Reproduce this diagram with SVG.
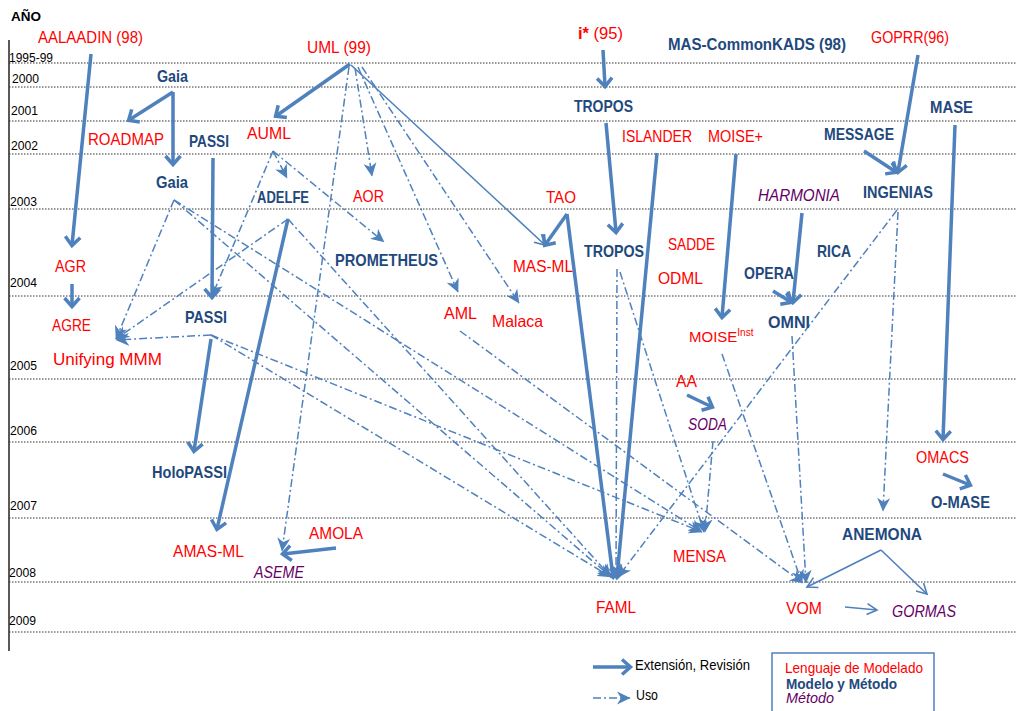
<svg xmlns="http://www.w3.org/2000/svg" width="1016" height="711" viewBox="0 0 1016 711">
<style>
text{font-family:"Liberation Sans",Arial,sans-serif}
.r{font-size:16.5px;fill:#FF0000}
.b{font-size:16.5px;font-weight:bold;fill:#1F497D}
.p{font-size:16.5px;font-style:italic;fill:#660066}
.y{font-size:12.5px;fill:#000}
.grid{stroke:#333;stroke-width:1;stroke-dasharray:1.5 1.5}
.ext{stroke:#4F81BD;stroke-width:3.5;fill:none;marker-end:url(#mh)}
.thin{stroke:#4F81BD;stroke-width:1.6;fill:none;marker-end:url(#mt)}
.uso{stroke:#4F81BD;stroke-width:1.5;fill:none;stroke-dasharray:8 3 2 3;marker-end:url(#mu)}
</style>
<defs>
<marker id="mh" markerUnits="userSpaceOnUse" viewBox="0 0 16 18" markerWidth="16" markerHeight="18" refX="11" refY="9" orient="auto">
<path d="M3,1.5 L11.5,9 L3,16.5" fill="none" stroke="#4F81BD" stroke-width="3.5"/>
</marker>
<marker id="mt" markerUnits="userSpaceOnUse" viewBox="0 0 14 14" markerWidth="14" markerHeight="14" refX="12" refY="7" orient="auto">
<path d="M2,1.5 L12,7 L2,12.5" fill="none" stroke="#4F81BD" stroke-width="1.6"/>
</marker>
<marker id="mu" markerUnits="userSpaceOnUse" viewBox="0 0 14 14" markerWidth="14" markerHeight="14" refX="13" refY="7" orient="auto">
<path d="M0,0.5 L13.5,7 L0,13.5 L4,7 z" fill="#4F81BD"/>
</marker>
</defs>
<rect width="1016" height="711" fill="#fff"/>
<g id="grid">
<line x1="9" y1="40" x2="9" y2="651" stroke="#000" stroke-width="1.3"/>
<line class="grid" x1="9" y1="63" x2="1016" y2="63"/>
<line class="grid" x1="9" y1="87" x2="1016" y2="87"/>
<line class="grid" x1="9" y1="121" x2="1016" y2="121"/>
<line class="grid" x1="9" y1="154" x2="1016" y2="154"/>
<line class="grid" x1="9" y1="209" x2="1016" y2="209"/>
<line class="grid" x1="9" y1="296" x2="1016" y2="296"/>
<line class="grid" x1="9" y1="379" x2="1016" y2="379"/>
<line class="grid" x1="9" y1="442" x2="1016" y2="442"/>
<line class="grid" x1="9" y1="518" x2="1016" y2="518"/>
<line class="grid" x1="9" y1="582" x2="1016" y2="582"/>
<line class="grid" x1="9" y1="632" x2="1016" y2="632"/>
<text x="11" y="21" font-size="13.5" font-weight="bold" textLength="30" lengthAdjust="spacingAndGlyphs">AÑO</text>
<text class="y" x="9" y="62" textLength="44" lengthAdjust="spacingAndGlyphs">1995-99</text>
<text class="y" x="12" y="83" textLength="27" lengthAdjust="spacingAndGlyphs">2000</text>
<text class="y" x="11" y="115" textLength="27" lengthAdjust="spacingAndGlyphs">2001</text>
<text class="y" x="11" y="150" textLength="27" lengthAdjust="spacingAndGlyphs">2002</text>
<text class="y" x="10" y="206" textLength="27" lengthAdjust="spacingAndGlyphs">2003</text>
<text class="y" x="10" y="287" textLength="27" lengthAdjust="spacingAndGlyphs">2004</text>
<text class="y" x="10" y="370" textLength="27" lengthAdjust="spacingAndGlyphs">2005</text>
<text class="y" x="10" y="435" textLength="27" lengthAdjust="spacingAndGlyphs">2006</text>
<text class="y" x="10" y="510" textLength="27" lengthAdjust="spacingAndGlyphs">2007</text>
<text class="y" x="9" y="577" textLength="27" lengthAdjust="spacingAndGlyphs">2008</text>
<text class="y" x="9" y="625" textLength="27" lengthAdjust="spacingAndGlyphs">2009</text>
</g>
<g id="connectors">
<line class="ext" x1="91" y1="54" x2="72" y2="245"/>
<line class="ext" x1="72" y1="284" x2="72" y2="306"/>
<line class="ext" x1="173" y1="92" x2="129" y2="120"/>
<line class="ext" x1="173" y1="92" x2="173" y2="164"/>
<line class="ext" x1="350" y1="64" x2="276" y2="116"/>
<line class="ext" x1="213" y1="158" x2="212" y2="297"/>
<line class="ext" x1="211" y1="339" x2="194" y2="451"/>
<line class="ext" x1="288" y1="219" x2="217" y2="529"/>
<line class="ext" x1="336" y1="548" x2="283" y2="554"/>
<line class="ext" x1="603" y1="50" x2="605" y2="86"/>
<line class="ext" x1="606" y1="123" x2="616" y2="232"/>
<line class="ext" x1="567" y1="214" x2="545" y2="245"/>
<line class="ext" x1="567" y1="214" x2="613" y2="577"/>
<line class="ext" x1="657" y1="153" x2="617" y2="577"/>
<line class="ext" x1="736" y1="154" x2="722" y2="317"/>
<line class="ext" x1="802" y1="213" x2="793" y2="302"/>
<line class="ext" x1="773" y1="291" x2="791" y2="302"/>
<line class="ext" x1="864" y1="151" x2="896" y2="172"/>
<line class="ext" x1="918" y1="55" x2="898" y2="172"/>
<line class="ext" x1="955" y1="125" x2="943" y2="439"/>
<line class="ext" x1="943" y1="474" x2="970" y2="485"/>
<line class="ext" x1="687" y1="395" x2="712" y2="407"/>
<line class="thin" x1="351" y1="65" x2="545" y2="245"/>
<line class="thin" x1="881" y1="550" x2="807" y2="587"/>
<line class="thin" x1="881" y1="550" x2="927" y2="594"/>
<line class="thin" x1="845" y1="607" x2="877" y2="610"/>
<line class="uso" x1="355" y1="68" x2="372" y2="176"/>
<line class="uso" x1="273" y1="151" x2="384" y2="242"/>
<line class="uso" x1="358" y1="67" x2="458" y2="292"/>
<line class="uso" x1="362" y1="67" x2="519" y2="303"/>
<line class="uso" x1="349" y1="67" x2="282" y2="551"/>
<line class="uso" x1="273" y1="151" x2="287" y2="178"/>
<line class="uso" x1="273" y1="151" x2="212" y2="296"/>
<line class="uso" x1="174" y1="200" x2="116" y2="339"/>
<line class="uso" x1="288" y1="219" x2="116" y2="339"/>
<line class="uso" x1="211" y1="335" x2="116" y2="340"/>
<line class="uso" x1="174" y1="200" x2="611" y2="577"/>
<line class="uso" x1="174" y1="200" x2="702" y2="532"/>
<line class="uso" x1="288" y1="219" x2="611" y2="577"/>
<line class="uso" x1="211" y1="335" x2="611" y2="577"/>
<line class="uso" x1="211" y1="335" x2="702" y2="532"/>
<line class="uso" x1="460" y1="331" x2="803" y2="583"/>
<line class="uso" x1="617" y1="269" x2="616" y2="577"/>
<line class="uso" x1="620" y1="272" x2="704" y2="532"/>
<line class="uso" x1="713" y1="441" x2="705" y2="532"/>
<line class="uso" x1="722" y1="354" x2="802" y2="583"/>
<line class="uso" x1="792" y1="336" x2="806" y2="583"/>
<line class="uso" x1="897" y1="210" x2="618" y2="577"/>
<line class="uso" x1="898" y1="212" x2="883" y2="511"/>
</g>
<g id="n-aalaadin"><text class="r" x="38" y="43" textLength="105" lengthAdjust="spacingAndGlyphs">AALAADIN (98)</text></g>
<g id="n-uml"><text class="r" x="307" y="53" textLength="64" lengthAdjust="spacingAndGlyphs">UML (99)</text></g>
<g id="n-istar"><text class="r" x="578" y="39"><tspan font-weight="bold">i*</tspan> (95)</text></g>
<g id="n-masck"><text class="b" x="668" y="50" textLength="178" lengthAdjust="spacingAndGlyphs">MAS-CommonKADS (98)</text></g>
<g id="n-goprr"><text class="r" x="871" y="43" textLength="78" lengthAdjust="spacingAndGlyphs">GOPRR(96)</text></g>
<g id="n-gaia1"><text class="b" x="157" y="82" textLength="31" lengthAdjust="spacingAndGlyphs">Gaia</text></g>
<g id="n-tropos1"><text class="b" x="574" y="112" textLength="59" lengthAdjust="spacingAndGlyphs">TROPOS</text></g>
<g id="n-mase"><text class="b" x="930" y="113" textLength="43" lengthAdjust="spacingAndGlyphs">MASE</text></g>
<g id="n-roadmap"><text class="r" x="88" y="145" textLength="76" lengthAdjust="spacingAndGlyphs">ROADMAP</text></g>
<g id="n-passi1"><text class="b" x="189" y="147" textLength="40" lengthAdjust="spacingAndGlyphs">PASSI</text></g>
<g id="n-auml"><text class="r" x="247" y="139" textLength="44" lengthAdjust="spacingAndGlyphs">AUML</text></g>
<g id="n-islander"><text class="r" x="622" y="142" textLength="70" lengthAdjust="spacingAndGlyphs">ISLANDER</text></g>
<g id="n-moiseplus"><text class="r" x="708" y="142" textLength="55" lengthAdjust="spacingAndGlyphs">MOISE+</text></g>
<g id="n-message"><text class="b" x="824" y="140" textLength="70" lengthAdjust="spacingAndGlyphs">MESSAGE</text></g>
<g id="n-gaia2"><text class="b" x="156" y="188" textLength="32" lengthAdjust="spacingAndGlyphs">Gaia</text></g>
<g id="n-adelfe"><text class="b" x="257" y="203" textLength="52" lengthAdjust="spacingAndGlyphs">ADELFE</text></g>
<g id="n-aor"><text class="r" x="353" y="202" textLength="31" lengthAdjust="spacingAndGlyphs">AOR</text></g>
<g id="n-tao"><text class="r" x="546" y="203" textLength="30" lengthAdjust="spacingAndGlyphs">TAO</text></g>
<g id="n-harmonia"><text class="p" x="758" y="201" textLength="82" lengthAdjust="spacingAndGlyphs">HARMONIA</text></g>
<g id="n-ingenias"><text class="b" x="863" y="198" textLength="70" lengthAdjust="spacingAndGlyphs">INGENIAS</text></g>
<g id="n-tropos2"><text class="b" x="584" y="257" textLength="60" lengthAdjust="spacingAndGlyphs">TROPOS</text></g>
<g id="n-sadde"><text class="r" x="668" y="250" textLength="47" lengthAdjust="spacingAndGlyphs">SADDE</text></g>
<g id="n-rica"><text class="b" x="817" y="257" textLength="34" lengthAdjust="spacingAndGlyphs">RICA</text></g>
<g id="n-prometheus"><text class="b" x="335" y="266" textLength="103" lengthAdjust="spacingAndGlyphs">PROMETHEUS</text></g>
<g id="n-agr"><text class="r" x="55" y="272" textLength="31" lengthAdjust="spacingAndGlyphs">AGR</text></g>
<g id="n-masml"><text class="r" x="513" y="272" textLength="60" lengthAdjust="spacingAndGlyphs">MAS-ML</text></g>
<g id="n-odml"><text class="r" x="658" y="284" textLength="45" lengthAdjust="spacingAndGlyphs">ODML</text></g>
<g id="n-opera"><text class="b" x="744" y="279" textLength="50" lengthAdjust="spacingAndGlyphs">OPERA</text></g>
<g id="n-aml"><text class="r" x="444" y="319" textLength="33" lengthAdjust="spacingAndGlyphs">AML</text></g>
<g id="n-malaca"><text class="r" x="492" y="327" textLength="51" lengthAdjust="spacingAndGlyphs">Malaca</text></g>
<g id="n-passi2"><text class="b" x="185" y="323" textLength="42" lengthAdjust="spacingAndGlyphs">PASSI</text></g>
<g id="n-agre"><text class="r" x="52" y="331" textLength="39" lengthAdjust="spacingAndGlyphs">AGRE</text></g>
<g id="n-omni"><text class="b" x="768" y="328" textLength="42" lengthAdjust="spacingAndGlyphs">OMNI</text></g>
<g id="n-moiseinst"><text x="689" y="342" fill="#FF0000"><tspan style="font-size:15px">MOISE</tspan><tspan dy="-6" style="font-size:10px">Inst</tspan></text></g>
<g id="n-unifying"><text class="r" x="53" y="365" textLength="109" lengthAdjust="spacingAndGlyphs">Unifying MMM</text></g>
<g id="n-aa"><text class="r" x="676" y="387" textLength="21" lengthAdjust="spacingAndGlyphs">AA</text></g>
<g id="n-soda"><text class="p" x="688" y="430" textLength="39" lengthAdjust="spacingAndGlyphs">SODA</text></g>
<g id="n-omacs"><text class="r" x="916" y="463" textLength="53" lengthAdjust="spacingAndGlyphs">OMACS</text></g>
<g id="n-holopassi"><text class="b" x="152" y="478" textLength="75" lengthAdjust="spacingAndGlyphs">HoloPASSI</text></g>
<g id="n-omase"><text class="b" x="931" y="508" textLength="59" lengthAdjust="spacingAndGlyphs">O-MASE</text></g>
<g id="n-amola"><text class="r" x="309" y="539" textLength="54" lengthAdjust="spacingAndGlyphs">AMOLA</text></g>
<g id="n-anemona"><text class="b" x="842" y="540" textLength="80" lengthAdjust="spacingAndGlyphs">ANEMONA</text></g>
<g id="n-amasml"><text class="r" x="173" y="557" textLength="71" lengthAdjust="spacingAndGlyphs">AMAS-ML</text></g>
<g id="n-mensa"><text class="r" x="673" y="562" textLength="53" lengthAdjust="spacingAndGlyphs">MENSA</text></g>
<g id="n-aseme"><text class="p" x="254" y="578" textLength="50" lengthAdjust="spacingAndGlyphs">ASEME</text></g>
<g id="n-faml"><text class="r" x="596" y="613" textLength="40" lengthAdjust="spacingAndGlyphs">FAML</text></g>
<g id="n-vom"><text class="r" x="786" y="614" textLength="36" lengthAdjust="spacingAndGlyphs">VOM</text></g>
<g id="n-gormas"><text class="p" x="892" y="617" textLength="64" lengthAdjust="spacingAndGlyphs">GORMAS</text></g>
<g id="legend">
<line class="ext" x1="593" y1="667" x2="630" y2="667"/>
<line class="uso" x1="593" y1="698" x2="630" y2="698"/>
<text x="635" y="670" font-size="14.5" fill="#000" textLength="115" lengthAdjust="spacingAndGlyphs">Extensión, Revisión</text>
<text x="636" y="700" font-size="14.5" fill="#000" textLength="22" lengthAdjust="spacingAndGlyphs">Uso</text>
<rect x="772" y="653" width="162" height="62" fill="none" stroke="#4F81BD" stroke-width="1.5"/>
<text x="785" y="673" font-size="14.5" fill="#FF0000" textLength="138" lengthAdjust="spacingAndGlyphs">Lenguaje de Modelado</text>
<text x="786" y="689" font-size="14.5" font-weight="bold" fill="#1F497D" textLength="111" lengthAdjust="spacingAndGlyphs">Modelo y Método</text>
<text x="786" y="703" font-size="14.5" font-style="italic" fill="#660066" textLength="48" lengthAdjust="spacingAndGlyphs">Método</text>
</g>
</svg>
